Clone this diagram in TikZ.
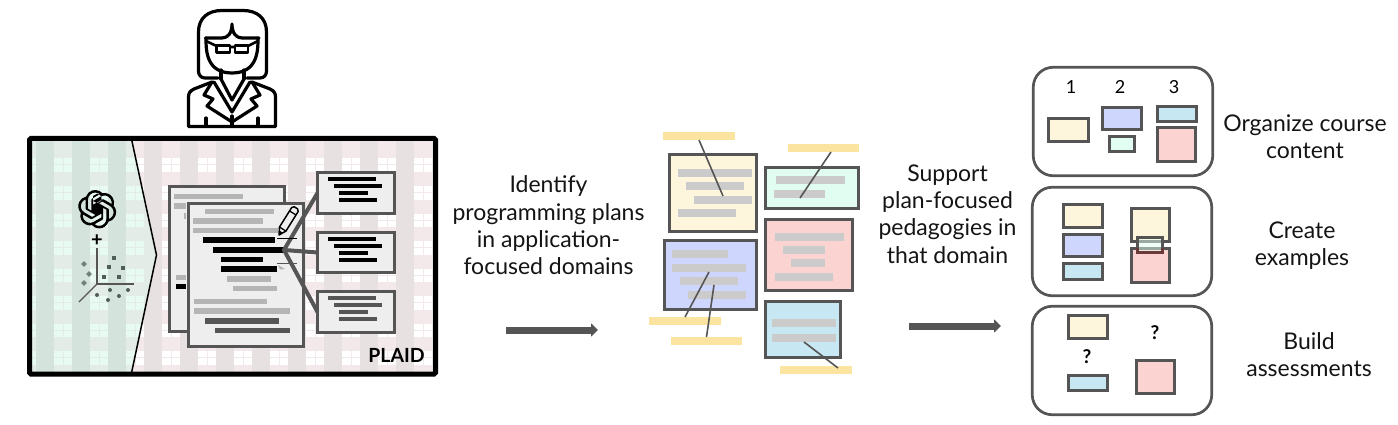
\documentclass[tikz,border=0pt]{standalone}
\usepackage{fontspec}
\setmainfont{Lato}
\usetikzlibrary{arrows.meta,svg.path}
\definecolor{ln}{HTML}{555555}
\definecolor{hl}{HTML}{FBE3A0}
\definecolor{cy}{HTML}{FEF6DC}
\definecolor{cg}{HTML}{E1FDF1}
\definecolor{cb}{HTML}{CFD6FD}
\definecolor{cp}{HTML}{FBD4D2}
\definecolor{cc}{HTML}{C7E8F3}
\definecolor{gb}{HTML}{CBCBCB}
\definecolor{dg}{HTML}{B5B5B5}
\definecolor{pap}{HTML}{EEEEEE}
\definecolor{pbase}{HTML}{F3E8EA}
\definecolor{pdark}{HTML}{E7E1E1}
\definecolor{gbase}{HTML}{E3ECE6}
\definecolor{gdark}{HTML}{D4E4DC}
\definecolor{gwin}{HTML}{E8FBF3}
\definecolor{dot}{HTML}{4F5F58}
\definecolor{dia}{HTML}{6F8078}
\definecolor{redln}{HTML}{6B3A3A}
\newcommand{\tbar}[5]{\fill[#1] (#2,#4) rectangle (#3,#5);}
\newcommand{\card}[6]{\node[cardbox,fill=#2,minimum width=#5-#3-3.4,minimum height=#6-#4-3.4] (#1) at ({(#3+#5)/2},{(#4+#6)/2}) {};}
\newcommand{\mini}[6]{\node[minibox,fill=#2,minimum width=#5-#3-3,minimum height=#6-#4-3] (#1) at ({(#3+#5)/2},{(#4+#6)/2}) {};}
\newcommand{\strip}[5]{\node[stripbox,minimum width=#4-#2,minimum height=#5-#3] (#1) at ({(#2+#4)/2},{(#3+#5)/2}) {};}
\tikzset{
 cardbox/.style={draw=ln,line width=3.4pt,inner sep=0,outer sep=0},
 minibox/.style={draw=ln,line width=3pt,inner sep=0,outer sep=0},
 stripbox/.style={fill=hl,inner sep=0,outer sep=0},
 docbox/.style={draw=ln,line width=3pt,fill=pap,inner sep=0,outer sep=0},
 panel/.style={draw=ln,line width=2.7pt,rounded corners=20pt,inner sep=0,outer sep=0},
 lbl/.style={font=\fontsize{23}{27.3}\selectfont,align=center,inner sep=0,text=black!92},
 thin link/.style={draw=ln,line width=1.6pt},
 thick link/.style={draw=ln,line width=4pt},
 flow/.style={draw=ln,line width=7pt,-{Triangle[length=7pt,width=13pt]}},
 person/.style={draw=black,line width=3.2pt,line join=round,line cap=round},
}
\begin{document}
\begin{tikzpicture}[x=1pt,y=-1pt]
\useasboundingbox (0,0) rectangle (1398,425);
% plaid background
\begin{scope}
\clip (29,138) rectangle (436,374);
\fill[pbase] (29,138) rectangle (436,374);
\foreach \k in {0,...,11}{
  \fill[pdark] ({36+36*\k},138) rectangle ({54+36*\k},374);
  \foreach \r in {0,...,7}{
    \fill[white] ({54+36*\k},{158.5+27.5*\r}) rectangle ({62.5+36*\k},{164.5+27.5*\r});
    \fill[white] ({63.5+36*\k},{158.5+27.5*\r}) rectangle ({72+36*\k},{164.5+27.5*\r});
    \fill[white] ({54+36*\k},{165.5+27.5*\r}) rectangle ({62.5+36*\k},{172+27.5*\r});
    \fill[white] ({63.5+36*\k},{165.5+27.5*\r}) rectangle ({72+36*\k},{172+27.5*\r});
  }
}
\end{scope}
\begin{scope}
\clip (29,138) -- (131.5,138) -- (156.5,255) -- (131.5,374) -- (29,374) -- cycle;
\fill[gbase] (29,138) rectangle (160,374);
\foreach \k in {0,1,2}{
  \fill[gdark] ({36+36*\k},138) rectangle ({54+36*\k},374);
}
\foreach \k in {-1,0,1,2}{
  \foreach \r in {0,...,7}{
    \fill[gwin] ({54+36*\k},{158.5+27.5*\r}) rectangle ({62.5+36*\k},{164.5+27.5*\r});
    \fill[gwin] ({63.5+36*\k},{158.5+27.5*\r}) rectangle ({72+36*\k},{164.5+27.5*\r});
    \fill[gwin] ({54+36*\k},{165.5+27.5*\r}) rectangle ({62.5+36*\k},{172+27.5*\r});
    \fill[gwin] ({63.5+36*\k},{165.5+27.5*\r}) rectangle ({72+36*\k},{172+27.5*\r});
  }
}
\end{scope}
\draw[black,line width=1.5pt] (131.5,139) -- (156.5,255) -- (131.5,373);
\draw[black,line width=5pt,rounded corners=1.5pt] (29.5,138.5) rectangle (435.5,374.2);
% OpenAI knot
\begin{scope}[shift={(78,190)},xscale=1.6,yscale=-1.6]
\fill[black] svg "M22.2819 9.8211 a5.9847 5.9847 0 0 0 -.5157 -4.9108 6.0462 6.0462 0 0 0 -6.5098 -2.9 A6.0651 6.0651 0 0 0 4.9807 4.1818 a5.9847 5.9847 0 0 0 -3.9977 2.9 6.0462 6.0462 0 0 0 .7427 7.0966 5.98 5.98 0 0 0 .511 4.9107 6.051 6.051 0 0 0 6.5146 2.9001 A5.9847 5.9847 0 0 0 13.2599 24 a6.0557 6.0557 0 0 0 5.7718 -4.2058 5.9894 5.9894 0 0 0 3.9977 -2.9001 6.0557 6.0557 0 0 0 -.7475 -7.0729 z m-9.022 12.6081 a4.4755 4.4755 0 0 1 -2.8764 -1.0408 l.1419 -.0804 4.7783 -2.7582 a.7948.7948 0 0 0 .3927 -.6813 v-6.7369 l2.02 1.1686 a.071.071 0 0 1 .038.052 v5.5826 a4.504 4.504 0 0 1 -4.4945 4.4944 z m-9.6607 -4.1254 a4.4708 4.4708 0 0 1 -.5346 -3.0137 l.142.0852 4.783 2.7582 a.7712.7712 0 0 0 .7806 0 l5.8428 -3.3685 v2.3324 a.0804.0804 0 0 1 -.0332.0615 L9.74 19.9502 a4.4992 4.4992 0 0 1 -6.1408 -1.6464 z M2.3408 7.8956 a4.485 4.485 0 0 1 2.3655 -1.9728 V11.6 a.7664.7664 0 0 0 .3879.6765 l5.8144 3.3543 -2.0201 1.1685 a.0757.0757 0 0 1 -.071 0 l-4.8303 -2.7865 A4.504 4.504 0 0 1 2.3408 7.872 z m16.5963 3.8558 L13.1038 8.364 15.1192 7.2 a.0757.0757 0 0 1 .071 0 l4.8303 2.7913 a4.4944 4.4944 0 0 1 -.6765 8.1042 v-5.6772 a.79.79 0 0 0 -.407 -.667 z m2.0107 -3.0231 l-.142 -.0852 -4.7735 -2.7818 a.7759.7759 0 0 0 -.7854 0 L9.409 9.2297 V6.8974 a.0662.0662 0 0 1 .0284 -.0615 l4.8303 -2.7866 a4.4992 4.4992 0 0 1 6.6802 4.66 z M8.3065 12.863 l-2.02 -1.1638 a.0804.0804 0 0 1 -.038 -.0567 V6.0742 a4.4992 4.4992 0 0 1 7.3757 -3.4537 l-.142.0805 L8.704 5.459 a.7948.7948 0 0 0 -.3927.6813 z m1.0976 -2.3654 l2.602 -1.4998 2.6069 1.4998 v2.9994 l-2.5974 1.4997 -2.6067 -1.4997 Z";
\end{scope}
\node[inner sep=0,font=\fontsize{20}{20}\selectfont\bfseries] (plus) at (97,240.5) {+};
% axes
\coordinate (ax0) at (97,284);
\coordinate (axy) at (97,248);
\coordinate (axx) at (134,284);
\coordinate (axz) at (79,302);
\draw[ln,line width=1.4pt] (axy) -- (ax0) -- (axx);
\draw[ln,line width=1.4pt] (ax0) -- (axz);
\foreach \x/\y in {114/258,109/267,123/268,104/277,119/277}{\fill[dot] (\x-2,\y-2) rectangle (\x+2,\y+2);}
\foreach \x/\y in {84/264,89/274,84/283}{\fill[dia] (\x-2.8,\y) -- (\x,\y-2.8) -- (\x+2.8,\y) -- (\x,\y+2.8) -- cycle;}
\foreach \x/\y in {110/290,128/290,97/295,119/296,108/300}{\fill[dot] (\x,\y) circle (2);}
% documents
\node[docbox,minimum width=115,minimum height=145] (docb) at (227,259) {};
\tbar{dg}{174}{243}{194}{199}
\tbar{dg}{174}{186}{203}{209}
\tbar{dg}{184}{186}{213}{219}
\tbar{dg}{176}{186}{275}{280}
\tbar{black}{176}{186}{284}{289}
\node[docbox,minimum width=115,minimum height=143.5] (docf) at (246,275) {};
\tbar{dg}{205}{274}{209}{214}
\tbar{dg}{193}{263}{218}{224}
\tbar{dg}{193}{278}{228}{233}
\tbar{black}{203}{275}{237}{243}
\tbar{black}{213}{284}{247}{253}
\tbar{black}{221}{263}{257}{262}
\tbar{black}{221}{277}{266}{272}
\tbar{dg}{227}{271}{276}{282}
\tbar{dg}{233}{277}{286}{291}
\tbar{dg}{194}{267}{299}{304}
\tbar{dg}{194}{290}{308}{314}
\tbar{ln}{205}{279}{318}{324}
\tbar{ln}{215}{290}{328}{333}
% extract boxes
\node[docbox,minimum width=77,minimum height=41] (ba) at (356,193) {};
\node[docbox,minimum width=77,minimum height=40] (bb) at (356,252.5) {};
\node[docbox,minimum width=77,minimum height=41] (bc) at (356,312) {};
\foreach \cl/\y in {black/0,black/60,ln/119}{
  \tbar{\cl}{328}{376}{177+\y}{181+\y}
  \tbar{\cl}{334}{382}{184+\y}{187.5+\y}
  \tbar{\cl}{339}{368}{191+\y}{195+\y}
  \tbar{\cl}{339}{377}{198+\y}{202+\y}
}
\coordinate (hub) at (284,250);
\draw[thick link] (ba.west) -- (hub) -- (bc.west);
\draw[thick link] (hub) -- (bb.west);
% pencil
\begin{scope}[shift={(279,235)},rotate=58]
\draw[black,line width=1.5pt,line join=round,fill=pap] (0,0) -- (7,-3.8) -- (30,-3.8) -- (32,-2) -- (32,2) -- (30,3.8) -- (7,3.8) -- cycle;
\draw[black,line width=1.3pt] (7,-3.8) -- (7,3.8) (26,-3.8) -- (26,3.8);
\fill[black] (0,0) -- (4,-2.3) -- (4,2.3) -- cycle;
\end{scope}
\draw[black,line width=1pt] (277,238) -- (297,238);
\draw[ln,line width=1pt] (277,263) -- (297,263);
\fill[dg] (278,265) -- (285,269) -- (280,269.5) -- cycle;
\node[inner sep=0,font=\fontsize{19.5}{20}\selectfont\bfseries] (plaid) at (396.5,355) {PLAID};
% woman
\draw[person] (218,78) -- (205,78) .. controls (201,78) and (198.5,75) .. (198.5,71) -- (198.5,32) .. controls (198.5,18) and (208,10.5) .. (222,10.5) -- (243,10.5) .. controls (257,10.5) and (266.5,18) .. (266.5,32) -- (266.5,71) .. controls (266.5,75) and (264,78) .. (260,78) -- (247,78);
\draw[person] (205.5,38) -- (222,38) .. controls (228,38) and (232,33) .. (232,24) .. controls (232,33) and (236,38) .. (242,38) -- (259,38);
\draw[person] (206,38) .. controls (206,50) and (206,73) .. (232,73) .. controls (258,73) and (258,50) .. (258,38);
\draw[black,line width=2.6pt,line join=round] (216.5,45.5) rectangle (230,52.5) (235,45.5) rectangle (248,52.5);
\draw[black,line width=2.6pt] (230,47) -- (235,47) (206,41) -- (216.5,46) (248,46) -- (258,41);
\draw[person] (221,70) -- (221,79) (244,70) -- (244,79);
\draw[person] (212,82) -- (194,89) .. controls (190,91) and (188.5,93) .. (188.5,97) -- (188.5,126.5) -- (275.5,126.5) -- (275.5,97) .. controls (275.5,93) and (274,91) .. (270,89) -- (252,82);
\draw[person] (212,82) -- (204,95) -- (213,99) -- (207,106) -- (232,122) -- (257,106) -- (251,99) -- (260,95) -- (252,82);
\draw[person] (221,79) -- (232,100) -- (244,79);
\draw[person] (214,82) -- (232,112) -- (250,82);
\draw[person] (232,116) -- (232,126) (206,118) -- (206,126) (258,118) -- (258,126);
% left label + flow
\node[lbl] (t1) at (548.5,225.5) {Identify\\programming plans\\in application-\\focused domains};
\coordinate (f1a) at (506,330);
\coordinate (f1b) at (598,330);
\draw[flow] (f1a) -- (f1b);
% strips and cards
\strip{s1}{663}{132}{735}{140}
\strip{s2}{788}{144}{859}{152}
\strip{s3}{649}{317}{721}{325}
\strip{s4}{671}{337}{742}{345}
\strip{s5}{780}{366}{852}{374}
\card{ky}{cy}{668}{153}{758}{233}
\card{kg}{cg}{764}{166}{860}{210}
\card{kb}{cb}{663}{239}{758}{311}
\card{kp}{cp}{764}{218}{854}{292}
\card{kc}{cc}{764}{300}{842}{359}
\tbar{gb}{678}{752}{169}{177}
\tbar{gb}{686}{744}{182}{190}
\tbar{gb}{694}{752}{196}{204}
\tbar{gb}{678}{736}{209}{217}
\tbar{gb}{776}{845}{176}{184}
\tbar{gb}{774}{825}{190}{198}
\tbar{gb}{672}{728}{250}{258}
\tbar{gb}{672}{746}{264}{272}
\tbar{gb}{680}{738}{277}{285}
\tbar{gb}{688}{746}{291}{299}
\tbar{gb}{775}{844}{233}{241}
\tbar{gb}{783}{825}{246}{254}
\tbar{gb}{791}{825}{259}{267}
\tbar{gb}{775}{833}{273}{281}
\tbar{gb}{772}{836}{319}{327}
\tbar{gb}{772}{836}{334}{342}
\coordinate (c1) at (723,196);
\coordinate (c2) at (800,198);
\coordinate (c3) at (709,272);
\coordinate (c4) at (714,285);
\coordinate (c5) at (804,342);
\coordinate (e2) at (831,152);
\coordinate (e3) at (685,317);
\coordinate (e5) at (838,368);
\draw[thin link] (s1.south) -- (c1);
\draw[thin link] (e2) -- (c2);
\draw[thin link] (e3) -- (c3);
\draw[thin link] (s4.north) -- (c4);
\draw[thin link] (e5) -- (c5);
% middle label + flow
\node[lbl] (t2) at (947.5,214) {Support\\plan-focused\\pedagogies in\\that domain};
\coordinate (f2a) at (909,326);
\coordinate (f2b) at (1001,326);
\draw[flow] (f2a) -- (f2b);
% right panels
\node[panel,minimum width=179.5,minimum height=108.5] (p1) at (1123,121.5) {};
\node[panel,minimum width=179.5,minimum height=108.5] (p2) at (1122,241.5) {};
\node[panel,minimum width=179.5,minimum height=108.5] (p3) at (1122,360.5) {};
\node[inner sep=0,font=\fontsize{18}{18}\selectfont] (n1) at (1071,87) {1};
\node[inner sep=0,font=\fontsize{18}{18}\selectfont] (n2) at (1120,87) {2};
\node[inner sep=0,font=\fontsize{18}{18}\selectfont] (n3) at (1174,87) {3};
\mini{a1}{cy}{1047}{117}{1090}{143}
\mini{a2}{cb}{1101}{106}{1143}{131}
\mini{a3}{cg}{1108}{135}{1136}{153}
\mini{a4}{cc}{1156}{105}{1198}{123}
\mini{a5}{cp}{1156}{126}{1197}{163}
\mini{b1}{cy}{1062}{203}{1104}{229}
\mini{b2}{cb}{1062}{233}{1104}{258}
\mini{b3}{cc}{1062}{262}{1104}{281}
\mini{b4}{cy}{1130}{207}{1171}{243}
\mini{b5}{cp}{1130}{247}{1171}{284}
\node[minibox,fill=cg,fill opacity=.5,minimum width=25,minimum height=15] (b6) at (1150,245) {};
\begin{scope}
\clip (1125,248) rectangle (1175,258);
\draw[redln,line width=3pt] (b6.north west) rectangle (b6.south east);
\end{scope}
\mini{d1}{cy}{1067}{314}{1109}{340}
\mini{d2}{cc}{1067}{374}{1109}{392}
\mini{d3}{cp}{1135}{359}{1176}{395}
\node[inner sep=0,font=\fontsize{19}{19}\selectfont\bfseries] (q1) at (1155,333) {?};
\node[inner sep=0,font=\fontsize{19}{19}\selectfont\bfseries] (q2) at (1087,357) {?};
\node[lbl] (r1) at (1305,136.5) {Organize course\\content};
\node[lbl] (r2) at (1302,245.5) {Create\\examples};
\node[lbl] (r3) at (1309,354.5) {Build\\assessments};
\end{tikzpicture}
\end{document}
